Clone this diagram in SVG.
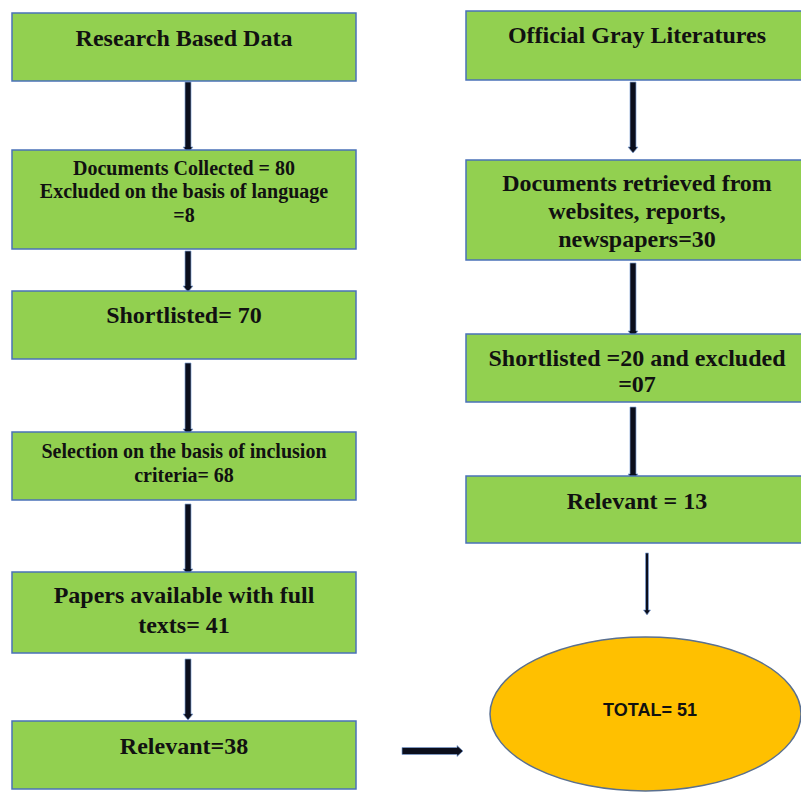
<svg xmlns="http://www.w3.org/2000/svg" width="801" height="795" viewBox="0 0 801 795">
<style>
.box{fill:#92d050;stroke:#4a72b8;stroke-width:1.5}
.t{font-family:"Liberation Serif","Times New Roman",serif;font-weight:bold;fill:#111;text-anchor:middle}
.s24{font-size:24px}
.s20{font-size:20px}
.arr{fill:#0b0e1c;stroke:#7f9fd4;stroke-width:1;stroke-opacity:0.7}
.ell{fill:#ffc000;stroke:#5a7090;stroke-width:1.5}
.tt{font-family:"Liberation Sans",Arial,sans-serif;font-weight:bold;font-size:18px;fill:#111;text-anchor:middle}
</style>
<rect width="801" height="795" fill="#ffffff"/>
<g id="connectors">
<path class="arr" d="M185 82H191V147H193L188 153L183 147H185Z"/>
<path class="arr" d="M185 251H191V286H193L188 292L183 286H185Z"/>
<path class="arr" d="M185 363H191V429H193L188 435L183 429H185Z"/>
<path class="arr" d="M185 504H191V569H193L188 575L183 569H185Z"/>
<path class="arr" d="M185 659H191V714H193L188 720L183 714H185Z"/>
<path class="arr" d="M630 82H636V147H638L633 153L628 147H630Z"/>
<path class="arr" d="M630 263H636V331H638L633 337L628 331H630Z"/>
<path class="arr" d="M630 407H636V474H638L633 480L628 474H630Z"/>
<path class="arr" d="M645.5 553H648.5V610H650.5L647 615L643.5 610H645.5Z"/>
<path class="arr" d="M402 747.5H457V745.5L463 751L457 756.5V754.5H402Z"/>
</g>
<g id="research">
<rect class="box" x="12" y="13" width="344" height="68"/>
<text class="t s24" x="184" y="46">Research Based Data</text>
</g>
<g id="collected">
<rect class="box" x="12" y="150" width="344" height="99"/>
<text class="t s20" x="184" y="175">Documents Collected = 80</text>
<text class="t s20" x="184" y="198">Excluded on the basis of language</text>
<text class="t s20" x="184" y="222">=8</text>
</g>
<g id="shortlisted">
<rect class="box" x="12" y="291" width="344" height="68"/>
<text class="t s24" x="184" y="323">Shortlisted= 70</text>
</g>
<g id="selection">
<rect class="box" x="12" y="432" width="344" height="68"/>
<text class="t s20" x="184" y="458">Selection on the basis of inclusion</text>
<text class="t s20" x="184" y="482">criteria= 68</text>
</g>
<g id="papers">
<rect class="box" x="12" y="572" width="344" height="81"/>
<text class="t s24" x="184" y="603">Papers available with full</text>
<text class="t s24" x="184" y="633">texts= 41</text>
</g>
<g id="relevant38">
<rect class="box" x="12" y="721" width="344" height="68"/>
<text class="t s24" x="184" y="754">Relevant=38</text>
</g>
<g id="gray">
<rect class="box" x="466" y="11" width="344" height="69"/>
<text class="t s24" x="637" y="43">Official Gray Literatures</text>
</g>
<g id="retrieved">
<rect class="box" x="466" y="160" width="344" height="100"/>
<text class="t s24" x="637" y="191">Documents retrieved from</text>
<text class="t s24" x="637" y="219">websites, reports,</text>
<text class="t s24" x="637" y="247">newspapers=30</text>
</g>
<g id="shortlisted20">
<rect class="box" x="466" y="334" width="344" height="68"/>
<text class="t s24" x="637" y="366">Shortlisted =20 and excluded</text>
<text class="t s24" x="637" y="392">=07</text>
</g>
<g id="relevant13">
<rect class="box" x="466" y="476" width="344" height="67"/>
<text class="t s24" x="637" y="509">Relevant = 13</text>
</g>
<g id="total">
<ellipse class="ell" cx="645.5" cy="714" rx="155.5" ry="77"/>
<text class="tt" x="650" y="716">TOTAL= 51</text>
</g>
</svg>
